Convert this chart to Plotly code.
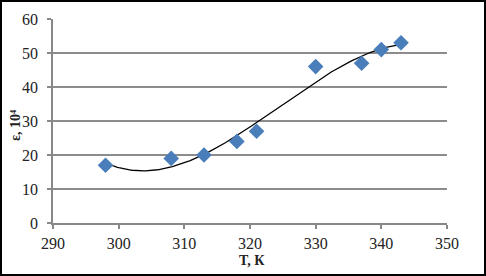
import numpy as np
import plotly.graph_objects as go

T = [298, 308, 313, 318, 321, 330, 337, 340, 343]
eps = [17, 19, 20, 24, 27, 46, 47, 51, 53]
x_ticks = [290, 300, 310, 320, 330, 340, 350]
y_ticks = [0, 10, 20, 30, 40, 50, 60]

# polynomial (3rd order) trendline, as in the original spreadsheet chart
coef = np.polyfit(T, eps, 3)
tx = np.linspace(min(T), max(T), 200)
ty = np.polyval(coef, tx)

fig = go.Figure()
fig.add_trace(go.Scatter(x=tx, y=ty, mode="lines",
                         line=dict(color="black", width=1.3), hoverinfo="skip"))
fig.add_trace(go.Scatter(x=T, y=eps, mode="markers",
                         marker=dict(symbol="diamond", size=12, color="#4a7ebb",
                                     line=dict(width=0))))

L, R, Tm, B = 53, 39, 19, 53
W, H = 486, 276
pw, ph = W - L - R, H - Tm - B

def px(x):
    return (x - L) / pw

def py(y):
    return (H - B - y) / ph

fig.update_layout(
    template="none",
    width=W, height=H,
    margin=dict(l=L, r=R, t=Tm, b=B, pad=0, autoexpand=False),
    paper_bgcolor="white", plot_bgcolor="white",
    showlegend=False,
    font=dict(family="Liberation Serif, Times New Roman, serif", size=16, color="#222"),
    xaxis=dict(range=[290, 350], tickvals=x_ticks, showgrid=False, automargin=False,
               showline=True, linecolor="#888", linewidth=1.5,
               ticks="outside", ticklen=4, tickcolor="#888", tickwidth=1.5,
               ticklabelstandoff=1, zeroline=False),
    yaxis=dict(range=[0, 60], tickvals=y_ticks, showgrid=True, automargin=False,
               gridcolor="#8c8c8c", gridwidth=1.5,
               showline=True, linecolor="#888", linewidth=1.5,
               ticks="outside", ticklen=4, tickcolor="#888", tickwidth=1.5,
               ticklabelstandoff=6, zeroline=False),
    annotations=[
        dict(text="<b>T, К</b>", xref="paper", yref="paper", x=px(252), y=py(260),
             xanchor="center", yanchor="middle", showarrow=False, font=dict(size=14)),
        dict(text="<b>ε, 10⁴</b>", xref="paper", yref="paper", x=px(16), y=py(125),
             xanchor="center", yanchor="middle", showarrow=False, textangle=-90,
             font=dict(size=14)),
    ],
)

# outer frame
fig.add_shape(type="rect", xref="paper", yref="paper",
              x0=px(1), x1=px(485), y0=py(275), y1=py(1),
              line=dict(color="black", width=2), layer="above")

fig.write_html("out.html", config={"displayModeBar": False},
               post_script="document.body.style.margin='0';")
